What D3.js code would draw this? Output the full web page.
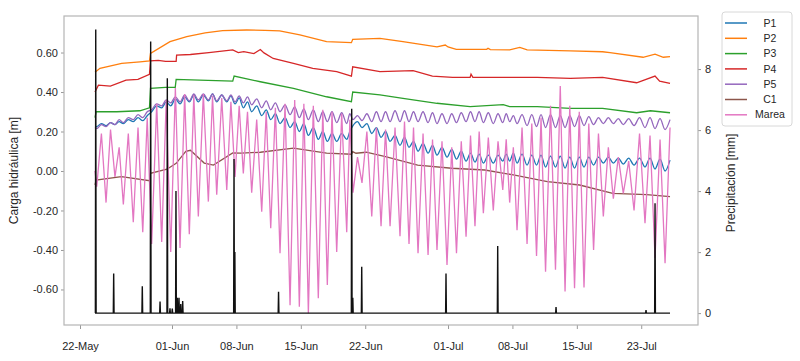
<!DOCTYPE html>
<html>
<head>
<meta charset="utf-8">
<script src="https://cdn.jsdelivr.net/npm/d3@7"></script>
<style>
  body { margin: 0; background: #fff; }
  svg text { font-family: "Liberation Sans", Arial, sans-serif; fill: #262626; }
</style>
</head>
<body>
<svg id="chart" width="800" height="361"></svg>
<script>
// days counted from 22-May 00:00
var tickDays = [0, 10, 17, 24, 31, 40, 47, 54, 61];
var tickLabels = ['22-May', '01-Jun', '08-Jun', '15-Jun', '22-Jun', '01-Jul', '08-Jul', '15-Jul', '23-Jul'];
var leftTicks = [-0.6, -0.4, -0.2, 0, 0.2, 0.4, 0.6];
var rightTicks = [0, 2, 4, 6, 8];

var seriesNames = ['P1', 'P2', 'P3', 'P4', 'P5', 'C1', 'Marea'];
var seriesColors = ['#1f77b4', '#ff7f0e', '#2ca02c', '#d62728', '#9467bd', '#8c564b', '#e377c2'];

var startDay = 1.63, endDay = 64.13;

// time of each tidal low
var tideDay = [1.82, 2.83, 3.80, 4.71, 5.79, 6.82, 7.79, 8.88, 9.86, 10.87, 11.88, 12.86, 13.95, 14.86, 15.95, 16.85,
  17.75, 18.66, 19.75, 20.73, 21.74, 22.83, 23.84, 24.82, 25.90, 26.88, 27.90, 28.99, 29.67, 30.65, 31.71, 32.72,
  33.70, 34.78, 35.76, 36.74, 37.83, 38.80, 39.89, 40.92, 41.96, 42.93, 43.84, 44.92, 45.95, 46.70, 47.50, 48.59,
  49.62, 50.60, 51.68, 52.72, 53.75, 54.78, 55.82, 56.88, 57.97, 59.05, 60.22, 61.41, 62.50, 63.59];

var mareaLow = [-0.08, -0.16, -0.03, -0.17, -0.26, -0.31, -0.37, -0.36, -0.41, -0.39, -0.32, -0.23, -0.155, -0.12, -0.096, -0.03,
  -0.012, -0.11, -0.206, -0.29, -0.417, -0.68, -0.687, -0.72, -0.645, -0.577, -0.41, -0.31, -0.11, -0.06, -0.23, -0.28,
  -0.28, -0.33, -0.37, -0.417, -0.425, -0.40, -0.476, -0.417, -0.333, -0.28, -0.214, -0.20, -0.096, -0.16, -0.30, -0.37,
  -0.43, -0.51, -0.50, -0.61, -0.594, -0.59, -0.40, -0.23, -0.14, -0.113, -0.20, -0.265, -0.44, -0.467];
var mareaHigh = [0.19, 0.21, 0.12, 0.19, 0.22, 0.27, 0.34, 0.36, 0.42, 0.39, 0.385, 0.39, 0.38, 0.37, 0.35, 0.33,
  0.30, 0.26, 0.30, 0.32, 0.34, 0.36, 0.34, 0.33, 0.31, 0.30, 0.29, 0.26, 0.07, 0.20, 0.22, 0.21,
  0.22, 0.25, 0.22, 0.19, 0.16, 0.15, 0.12, 0.15, 0.18, 0.20, 0.17, 0.15, 0.16, 0.12, 0.22, 0.24,
  0.27, 0.33, 0.43, 0.33, 0.30, 0.24, 0.19, 0.12, 0.07, 0.05, 0.19, 0.18, 0.16, 0.22];

var p1Lo = [0.225, 0.23, 0.235, 0.24, 0.25, 0.255, 0.30, 0.32, 0.33, 0.34, 0.35, 0.35, 0.355, 0.35, 0.35, 0.34,
  0.32, 0.30, 0.28, 0.26, 0.24, 0.22, 0.20, 0.18, 0.16, 0.15, 0.15, 0.16, 0.23, 0.22, 0.19, 0.17,
  0.15, 0.13, 0.12, 0.10, 0.09, 0.08, 0.07, 0.06, 0.05, 0.045, 0.04, 0.04, 0.05, 0.05, 0.04, 0.03,
  0.03, 0.02, 0.02, 0.015, 0.015, 0.02, 0.03, 0.04, 0.04, 0.035, 0.03, 0.02, 0.01, 0.00];
var p1Hi = [0.24, 0.245, 0.25, 0.26, 0.27, 0.28, 0.33, 0.35, 0.365, 0.375, 0.385, 0.385, 0.39, 0.385, 0.38, 0.37,
  0.35, 0.33, 0.31, 0.29, 0.27, 0.25, 0.24, 0.22, 0.20, 0.19, 0.19, 0.20, 0.25, 0.24, 0.22, 0.20,
  0.18, 0.17, 0.15, 0.14, 0.13, 0.12, 0.11, 0.10, 0.09, 0.085, 0.08, 0.08, 0.085, 0.09, 0.085, 0.08,
  0.08, 0.075, 0.075, 0.07, 0.07, 0.07, 0.07, 0.07, 0.065, 0.065, 0.065, 0.065, 0.06, 0.055];

var p5Lo = [0.215, 0.225, 0.235, 0.245, 0.26, 0.27, 0.31, 0.33, 0.345, 0.35, 0.355, 0.36, 0.36, 0.355, 0.355, 0.35,
  0.345, 0.335, 0.32, 0.31, 0.30, 0.285, 0.27, 0.26, 0.25, 0.25, 0.245, 0.24, 0.26, 0.255, 0.25, 0.25,
  0.25, 0.25, 0.25, 0.25, 0.245, 0.24, 0.24, 0.245, 0.25, 0.25, 0.245, 0.24, 0.245, 0.25, 0.24, 0.23,
  0.225, 0.22, 0.22, 0.22, 0.225, 0.23, 0.235, 0.24, 0.24, 0.235, 0.23, 0.22, 0.215, 0.21];
var p5Hi = [0.235, 0.245, 0.26, 0.27, 0.285, 0.30, 0.34, 0.36, 0.375, 0.385, 0.39, 0.39, 0.39, 0.385, 0.385, 0.38,
  0.375, 0.365, 0.355, 0.345, 0.335, 0.325, 0.315, 0.31, 0.30, 0.30, 0.295, 0.29, 0.28, 0.29, 0.30, 0.30,
  0.305, 0.305, 0.30, 0.30, 0.295, 0.29, 0.29, 0.295, 0.30, 0.30, 0.295, 0.29, 0.29, 0.28, 0.285, 0.285,
  0.285, 0.285, 0.28, 0.28, 0.28, 0.275, 0.27, 0.27, 0.265, 0.265, 0.27, 0.27, 0.265, 0.26];

// [day, value]
var p2 = [[1.63, 0.50], [2.17, 0.52], [4.53, 0.545], [6.52, 0.553], [7.55, 0.558], [7.66, 0.596], [9.78, 0.655],
  [11.6, 0.68], [13.6, 0.70], [15.5, 0.711], [18.1, 0.714], [20.1, 0.712], [21.7, 0.71], [23.9, 0.689], [26.8, 0.655],
  [29.5, 0.65], [29.64, 0.667], [32.6, 0.672], [35.1, 0.655], [38.8, 0.629], [39.7, 0.638], [40.0, 0.628], [40.9, 0.616],
  [44.2, 0.616], [44.35, 0.622], [44.6, 0.615], [46.7, 0.613], [47.8, 0.626], [48.6, 0.613], [53.3, 0.608],
  [56.8, 0.604], [57.6, 0.599], [61.2, 0.576], [62.5, 0.592], [63.4, 0.576], [64.13, 0.579]];
var p4 = [[1.63, 0.40], [2.0, 0.435], [3.3, 0.43], [5.0, 0.46], [6.3, 0.464], [7.55, 0.49], [7.66, 0.558], [8.5, 0.56],
  [9.3, 0.555], [10.45, 0.555], [10.5, 0.587], [12.0, 0.59], [14.0, 0.60], [16.6, 0.613], [17.2, 0.60], [17.8, 0.605],
  [18.9, 0.595], [19.6, 0.615], [20.0, 0.598], [21.0, 0.57], [23.2, 0.545], [25.3, 0.52], [27.9, 0.503], [29.5, 0.48],
  [29.64, 0.528], [32.6, 0.503], [36.2, 0.508], [38.3, 0.48], [40.5, 0.474], [42.4, 0.474], [42.5, 0.49], [42.7, 0.474],
  [49.7, 0.474], [53.3, 0.469], [56.8, 0.474], [60.5, 0.447], [62.5, 0.481], [63.0, 0.455], [64.13, 0.444]];
var p3 = [[1.63, 0.27], [1.75, 0.30], [4.0, 0.30], [6.5, 0.305], [7.55, 0.32], [7.66, 0.419], [9.3, 0.424], [10.35, 0.424],
  [10.45, 0.464], [13.0, 0.46], [16.6, 0.455], [16.75, 0.481], [19.6, 0.452], [23.2, 0.419], [26.8, 0.376], [29.5, 0.351],
  [29.64, 0.40], [32.6, 0.385], [35.1, 0.368], [38.8, 0.343], [42.4, 0.326], [46.0, 0.336], [46.7, 0.326], [49.7, 0.326],
  [53.3, 0.317], [56.8, 0.317], [60.5, 0.295], [62.0, 0.305], [64.13, 0.295]];
var c1 = [[1.63, -0.07], [1.75, -0.046], [4.5, -0.029], [7.55, -0.049], [7.66, -0.012], [9.45, 0.009], [10.45, 0.039],
  [11.5, 0.10], [12.0, 0.105], [13.5, 0.04], [14.5, 0.03], [16.6, 0.091], [17.5, 0.09], [19.6, 0.095], [23.2, 0.116],
  [26.8, 0.09], [29.5, 0.085], [29.64, 0.098], [30.0, 0.09], [31.1, 0.095], [33.2, 0.073], [36.7, 0.03], [40.4, 0.014],
  [44.0, 0.005], [47.1, -0.02], [50.8, -0.054], [54.3, -0.071], [57.9, -0.113], [61.6, -0.12], [64.13, -0.13]];

// rain events [day, mm]
var rain = [[1.71, 9.3], [3.66, 1.3], [6.77, 0.88], [7.68, 8.9], [8.70, 0.38], [9.49, 7.7], [9.78, 0.16], [10.03, 0.15],
  [10.43, 4.0], [10.58, 0.5], [10.76, 0.5], [10.95, 0.3], [11.16, 0.4], [16.74, 5.05], [16.83, 2.0], [21.58, 0.7],
  [29.53, 6.7], [29.65, 0.5], [30.62, 1.52], [39.78, 1.3], [45.40, 2.2], [51.74, 0.2], [61.52, 0.1], [62.50, 3.6]];

var base = Date.UTC(2019, 4, 22);
function toDate(d) { return new Date(base + d * 864e5); }

var margin = {top: 16, right: 102, bottom: 36, left: 64},
    width = 800 - margin.left - margin.right,
    height = 361 - margin.top - margin.bottom;

var x = d3.scaleUtc().domain([toDate(-1.74), toDate(67.17)]).range([0, width]),
    y = d3.scaleLinear().domain([-0.78, 0.785]).range([height, 0]),
    y2 = d3.scaleLinear().domain([-0.39, 9.74]).range([height, 0]);

function tidal(lo, hi, first) {
  var pts = [[startDay, first]];
  tideDay.forEach(function(t, i) {
    pts.push([t, lo[i]]);
    var mid = i < tideDay.length - 1 ? (t + tideDay[i + 1]) / 2 : endDay;
    pts.push([mid, hi[i]]);
  });
  return pts;
}

var series = [
  {pts: tidal(p1Lo, p1Hi, 0.224), curve: d3.curveMonotoneX},
  {pts: p2, curve: d3.curveLinear},
  {pts: p3, curve: d3.curveLinear},
  {pts: p4, curve: d3.curveLinear},
  {pts: tidal(p5Lo, p5Hi, 0.22), curve: d3.curveMonotoneX},
  {pts: c1, curve: d3.curveLinear},
  {pts: tidal(mareaLow, mareaHigh, 0.0), curve: d3.curveLinear}
];

var svg = d3.select('#chart')
            .append('g')
            .attr('transform', 'translate(' + margin.left + ',' + margin.top + ')');

svg.append('clipPath').attr('id', 'clip')
   .append('rect').attr('width', width).attr('height', height);

var plot = svg.append('g').attr('clip-path', 'url(#clip)');

series.forEach(function(s, i) {
  var line = d3.line()
               .x(function(d) { return x(toDate(d[0])); })
               .y(function(d) { return y(d[1]); })
               .curve(s.curve);
  plot.append('path')
      .attr('d', line(s.pts))
      .attr('fill', 'none')
      .attr('stroke', seriesColors[i])
      .attr('stroke-width', 1.3);
});

// precipitation as a line with zeros between events
var rainPts = [[startDay, 0]];
rain.forEach(function(r) {
  rainPts.push([r[0] - 0.04, 0], [r[0], r[1]], [r[0] + 0.04, 0]);
});
rainPts.push([endDay, 0]);

plot.append('path')
    .attr('d', d3.line()
                 .x(function(d) { return x(toDate(d[0])); })
                 .y(function(d) { return y2(d[1]); })(rainPts))
    .attr('fill', 'none')
    .attr('stroke', '#111')
    .attr('stroke-width', 1.4);

// axes
var xAxis = d3.axisBottom(x)
              .tickValues(tickDays.map(toDate))
              .tickFormat(function(d, i) { return tickLabels[i]; })
              .tickSize(4)
              .tickPadding(13);

var gx = svg.append('g')
            .attr('transform', 'translate(0,' + height + ')')
            .call(xAxis);

var gy = svg.append('g')
            .call(d3.axisLeft(y).tickValues(leftTicks)
                    .tickFormat(function(d) { return d.toFixed(2); })
                    .tickSize(3).tickPadding(3));

var gy2 = svg.append('g')
             .attr('transform', 'translate(' + width + ',0)')
             .call(d3.axisRight(y2).tickValues(rightTicks).tickSize(3).tickPadding(4));

[gx, gy, gy2].forEach(function(g) {
  g.select('.domain').remove();
  g.selectAll('.tick line').attr('stroke', '#999');
  g.selectAll('.tick text')
   .style('font-family', '"Liberation Sans", Arial, sans-serif')
   .style('font-size', '11px')
   .attr('fill', '#262626');
});

svg.append('rect')
   .attr('width', width)
   .attr('height', height)
   .attr('fill', 'none')
   .attr('stroke', '#b5b5b5')
   .attr('stroke-width', 1.2);

svg.append('text')
   .attr('transform', 'translate(' + (17.5 - margin.left) + ',' + (height / 2) + ') rotate(-90)')
   .attr('text-anchor', 'middle')
   .style('font-size', '12px')
   .text('Carga hidráulica [m]');

svg.append('text')
   .attr('transform', 'translate(' + (735 - margin.left) + ',' + (183 - margin.top) + ') rotate(-90)')
   .attr('text-anchor', 'middle')
   .style('font-size', '12px')
   .text('Precipitación [mm]');

// legend
var legend = d3.select('#chart').append('g').attr('class', 'legend');

legend.append('rect')
      .attr('x', 722).attr('y', 12)
      .attr('width', 70).attr('height', 114)
      .attr('rx', 3)
      .attr('fill', '#fff')
      .attr('stroke', '#d8d8d8');

var item = legend.selectAll('.item')
                 .data(seriesNames)
                 .enter()
                 .append('g')
                 .attr('class', 'item')
                 .attr('transform', function(d, i) { return 'translate(0,' + (23 + i * 15.3) + ')'; });

item.append('line')
    .attr('x1', 725).attr('x2', 747)
    .attr('stroke', function(d, i) { return seriesColors[i]; })
    .attr('stroke-width', 1.5);

item.append('text')
    .attr('x', 770)
    .attr('dy', '.35em')
    .attr('text-anchor', 'middle')
    .style('font-size', '10.5px')
    .text(function(d) { return d; });
</script>
</body>
</html>
